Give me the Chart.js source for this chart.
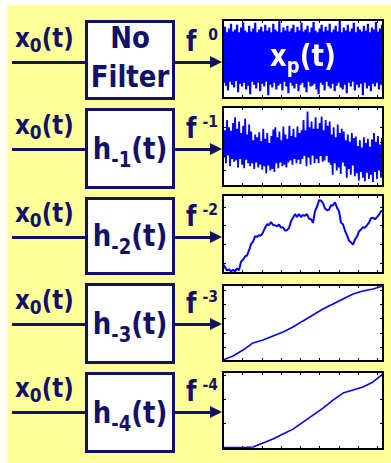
<!DOCTYPE html>
<html>
<head>
<meta charset="utf-8">
<script src="https://cdn.jsdelivr.net/npm/chart.js@4.4.1/dist/chart.umd.min.js"></script>
<style>
html, body { margin: 0; padding: 0; width: 391px; height: 463px; overflow: hidden; background: #fff; }
body { font-family: "DejaVu Sans", sans-serif; }
#bg { position: absolute; left: 7px; top: 5px; width: 384px; height: 458px; background: #ffff99; }
.lbl { position: absolute; font-weight: bold; color: #111166; white-space: nowrap; line-height: 1; transform: scaleY(1.15); transform-origin: 50% 84.6%; }
.box { position: absolute; left: 85px; width: 84px; border: 3px solid #111166; background: #fff; }
.hl { position: absolute; height: 3px; background: #111166; }
.head { position: absolute; width: 0; height: 0; border-top: 6px solid transparent; border-bottom: 6px solid transparent; border-left: 12px solid #111166; }
canvas { position: absolute; }
#xp { position: absolute; color: #fff; font-weight: bold; font-size: 26px; line-height: 1; white-space: nowrap; transform: scaleY(1.15); }
</style>
</head>
<body>
<div id="bg"></div>
<script>
// labels
const inputLabel = "x";
const inputSub = "0";
const filterSubs = ["-1", "-2", "-3", "-4"];
const exponents = ["0", "-1", "-2", "-3", "-4"];

// axis ticks (time axis shared, value axis per panel)
const xTicks = [1, 2, 3, 4, 5, 6, 7, 8];
const yTicks = [
    [-2, 0, 2],
    [-2, -1, 0, 1],
    [0, 1, 2, 3],
    [1, 2, 3, 4, 5],
    [1, 2, 3]
];

// f^0 : white noise
const whiteNoise = [
    2.9,-2.6,3.3,-2.9,2.7,-3.4,3.1,-2.5,3.6,-2.8,
    2.8,-3.1,3.0,-2.4,3.5,-3.6,2.7,-2.7,3.2,-3.0,
    3.8,-2.6,2.9,-3.3,2.7,-2.9,3.4,-3.8,2.8,-2.5,
    3.1,-2.8,3.7,-3.2,2.7,-2.6,3.0,-3.5,3.3,-2.7,
    2.8,-3.0,3.5,-2.5,2.9,-3.9,3.2,-2.8,2.7,-3.1,
    3.6,-2.6,3.0,-3.3,2.8,-2.9,3.9,-2.7,2.7,-3.4,
    3.2,-2.5,2.9,-3.0,3.4,-3.7,2.8,-2.6,3.1,-2.9,
    3.5,-3.2,2.7,-2.7,3.3,-3.5,2.9,-2.8,3.7,-2.6,
    2.8,-3.1,3.0,-3.6,3.4,-2.5,2.7,-3.0,3.2,-2.9,
    3.8,-2.7,2.9,-3.3,2.7,-3.8,3.1,-2.6,3.5,-2.8,
    2.8,-3.4,3.3,-2.5,2.9,-3.0,3.6,-3.2,2.7,-2.7,
    3.0,-3.5,3.4,-2.9,2.8,-2.6,3.9,-3.1,2.7,-3.3,
    3.2,-2.8,2.9,-3.7,3.5,-2.6,2.8,-3.0,3.1,-2.5,
    3.7,-3.4,2.7,-2.8,3.3,-3.1,3.0,-2.7,2.8,-3.9,
    3.4,-2.6,2.9,-3.2,3.6,-2.9,2.7,-3.5,3.2,-2.7,
    3.0,-3.0,3.8,-2.6,2.8,-3.3,3.1,-2.8,3.5,-3.6
];

// f^-1 : pink noise
const pinkNoise = [
    1.2,-1.1,0.8,-1.5,1.5,-0.95,1.0,-1.7,0.75,-1.2,1.3,-1.4,
    1.7,-1.3,0.9,-1.8,1.4,-1.2,0.6,-1.6,1.1,-1.85,1.6,-1.25,0.5,-1.5,1.2,-1.7,
    0.7,-1.5,0.1,-1.9,0.5,-1.45,0.3,-1.8,0.65,-1.6,0.05,-1.95,
    0.9,-1.7,0.2,-2.2,0.6,-1.65,-0.1,-2.0,0.4,-1.9,0.85,-2.1,
    1.0,-1.5,0.3,-1.85,0.7,-1.45,0.1,-1.7,1.05,-1.6,0.5,-1.8,0.2,-1.45,
    1.1,-1.3,0.4,-1.6,0.9,-1.2,0.3,-1.5,1.05,-1.25,0.6,-1.55,0.8,-1.2,
    1.5,-1.0,0.8,-1.7,2.1,-1.1,1.0,-1.6,1.4,-0.95,0.9,-1.5,
    1.7,-1.2,0.9,-1.5,1.3,-1.0,1.75,-1.4,0.8,-1.3,1.5,-1.0,1.1,-1.45,
    1.4,-1.6,0.5,-2.3,1.0,-1.5,0.3,-2.0,1.2,-1.8,0.6,-2.25,0.9,-1.45,
    0.7,-1.7,0.1,-2.5,0.5,-1.9,0.0,-2.3,0.6,-1.65,0.25,-2.4,
    0.35,-2.2,-0.3,-2.7,0.1,-2.1,-0.4,-2.5,0.3,-2.75,-0.1,-2.15,0.2,-2.6,-0.35,-2.3,0.15,-2.8,
    0.6,-2.1,0.0,-2.6,0.4,-2.0,-0.2,-2.5,0.25,-2.2
];

// f^-2 : brown noise
const brownNoise = [
    -0.08,-0.25,-0.42,-0.36,-0.48,-0.38,-0.47,-0.31,-0.42,0.05,
    0.15,0.33,0.38,0.65,0.99,1.12,1.41,1.38,1.47,1.45,
    1.62,1.86,2.06,2.02,2.17,2.03,2.00,1.96,2.04,1.88,
    1.90,1.72,1.74,1.86,2.22,2.41,2.60,2.46,2.60,2.45,
    2.55,2.52,2.60,2.36,2.33,2.14,2.76,3.00,3.35,3.33,
    3.19,2.90,2.81,2.84,3.08,3.06,3.24,2.95,2.76,2.14,
    2.06,1.71,1.47,1.17,1.09,0.96,1.25,1.39,1.68,1.77,
    1.90,1.87,2.01,2.14,2.38,2.41,2.33,2.44,2.57,2.76,2.79
];

// f^-3
const f3Noise = [0.07,0.35,0.77,1.27,1.48,1.76,2.04,2.39,2.82,3.24,3.66,4.01,4.37,4.72,4.93,5.07,5.28];

// f^-4
const f4Noise = [0.0,0.0,0.0,0.02,0.19,0.35,0.56,0.76,1.05,1.34,1.63,1.96,2.25,2.38,2.50,2.71,3.04];

const series = [whiteNoise, pinkNoise, brownNoise, f3Noise, f4Noise];
const yLimits = [[-4.2, 4.0], [-3.08, 2.41], [-0.56, 3.63], [0, 5.35], [-0.06, 3.12]];
const lineWidths = [2.2, 1.8, 2, 1.6, 1.6];
const T_END = 8.3;

const rows = [
    { box: [20, 100], arrow: 62, panel: [20, 98] },
    { box: [108, 189], arrow: 149, panel: [107, 186] },
    { box: [197, 275], arrow: 237, panel: [195, 273] },
    { box: [283, 364], arrow: 324, panel: [285, 361] },
    { box: [372, 453], arrow: 412, panel: [372, 449] }
];

function el(cls, css, html) {
    const d = document.createElement('div');
    d.className = cls;
    Object.assign(d.style, css);
    if (html !== undefined) d.innerHTML = html;
    document.body.appendChild(d);
    return d;
}

// DejaVu bold, line-height 1: baseline sits ~0.846em under the top
function textAt(left, baseline, size, html, extra) {
    return el('lbl', Object.assign({ left: left + 'px', top: (baseline - 0.846 * size) + 'px', fontSize: size + 'px' }, extra || {}), html);
}

const framePlugin = {
    id: 'frame',
    beforeDraw(chart) {
        const { ctx, chartArea: a } = chart;
        ctx.save();
        ctx.fillStyle = '#fff';
        ctx.fillRect(a.left, a.top, a.right - a.left, a.bottom - a.top);
        ctx.restore();
    },
    afterDraw(chart, args, opts) {
        const { ctx, chartArea: a, scales: { x, y } } = chart;
        ctx.save();
        ctx.strokeStyle = '#000';
        ctx.lineWidth = 1;
        ctx.beginPath();
        opts.xTicks.forEach(v => {
            const px = Math.round(x.getPixelForValue(v)) + 0.5;
            ctx.moveTo(px, a.top); ctx.lineTo(px, a.top + 3);
            ctx.moveTo(px, a.bottom); ctx.lineTo(px, a.bottom - 3);
        });
        opts.yTicks.forEach(v => {
            const py = Math.round(y.getPixelForValue(v)) + 0.5;
            ctx.moveTo(a.left, py); ctx.lineTo(a.left + 3, py);
            ctx.moveTo(a.right, py); ctx.lineTo(a.right - 3, py);
        });
        ctx.stroke();
        ctx.lineWidth = 2;
        ctx.strokeRect(a.left, a.top, a.right - a.left, a.bottom - a.top);
        ctx.restore();
    }
};

rows.forEach((r, i) => {
    // input
    textAt(15, r.arrow - 15, 23, inputLabel + '<span style="font-size:17px;position:relative;top:4px">' + inputSub + '</span>(t)');
    el('hl', { left: '12px', width: '73px', top: (r.arrow - 1.5) + 'px' });

    // filter box
    const bh = r.box[1] - r.box[0];
    el('box', { top: r.box[0] + 'px', height: (bh - 6) + 'px' });
    if (i === 0) {
        textAt(85, 48, 26, 'No', { width: '90px', textAlign: 'center' });
        textAt(85, 87, 26, 'Filter', { width: '90px', textAlign: 'center' });
    } else {
        const mid = (r.box[0] + r.box[1]) / 2;
        textAt(85, mid + 10, 26, 'h<span style="font-size:18px;position:relative;top:7px">' + filterSubs[i - 1] + '</span>(t)', { width: '90px', textAlign: 'center' });
    }

    // output arrow
    el('hl', { left: '175px', width: '37px', top: (r.arrow - 1.5) + 'px' });
    el('head', { left: '210px', top: (r.arrow - 6) + 'px' });
    textAt(186, r.arrow - 11, 24, 'f');
    textAt(180, r.arrow - 22, 14, exponents[i], { width: '38px', textAlign: 'right' });

    // panel
    const ph = r.panel[1] - r.panel[0];
    const cv = document.createElement('canvas');
    cv.width = 164; cv.height = ph + 4;
    cv.style.left = '221px'; cv.style.top = (r.panel[0] - 2) + 'px';
    document.body.appendChild(cv);

    const vals = series[i];
    new Chart(cv, {
        type: 'line',
        plugins: [framePlugin],
        data: {
            datasets: [{
                data: vals.map((v, k) => ({ x: k * T_END / (vals.length - 1), y: v })),
                borderColor: '#0000ff',
                borderWidth: lineWidths[i],
                borderJoinStyle: 'bevel',
                pointRadius: 0,
                tension: 0,
                fill: false
            }]
        },
        options: {
            responsive: false,
            animation: false,
            events: [],
            layout: { padding: 2 },
            plugins: {
                legend: { display: false },
                tooltip: { enabled: false },
                frame: { xTicks: xTicks, yTicks: yTicks[i] }
            },
            scales: {
                x: { type: 'linear', display: false, min: 0, max: T_END },
                y: { type: 'linear', display: false, min: yLimits[i][0], max: yLimits[i][1] }
            }
        }
    });
});

// label on the white-noise panel
const xp = document.createElement('div');
xp.id = 'xp';
xp.innerHTML = 'x<span style="font-size:18px;position:relative;top:6px">p</span>(t)';
xp.style.left = '270px';
xp.style.top = '43px';
document.body.appendChild(xp);
</script>
</body>
</html>
